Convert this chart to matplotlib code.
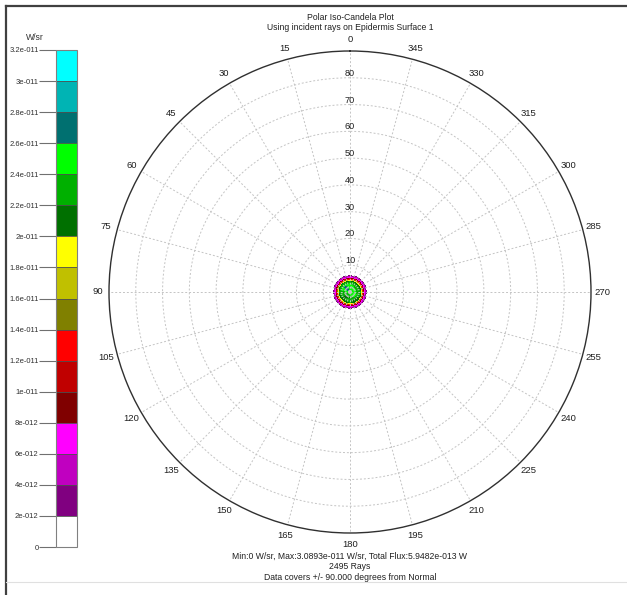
import numpy as np
import matplotlib
matplotlib.use("Agg")
import matplotlib.pyplot as plt
from matplotlib.colors import ListedColormap, BoundaryNorm
from matplotlib.lines import Line2D

plt.rcParams['font.family'] = ['Liberation Sans', 'DejaVu Sans']

# ---- data ----
levels = [0, 2e-12, 4e-12, 6e-12, 8e-12, 1e-11, 1.2e-11, 1.4e-11, 1.6e-11,
          1.8e-11, 2e-11, 2.2e-11, 2.4e-11, 2.6e-11, 2.8e-11, 3e-11, 3.2e-11]
level_labels = ["0", "2e-012", "4e-012", "6e-012", "8e-012", "1e-011", "1.2e-011",
                "1.4e-011", "1.6e-011", "1.8e-011", "2e-011", "2.2e-011", "2.4e-011",
                "2.6e-011", "2.8e-011", "3e-011", "3.2e-011"]
level_colors = ["#ffffff", "#800080", "#c000c0", "#ff00ff", "#800000", "#c00000",
                "#ff0000", "#808000", "#c0c000", "#ffff00", "#007000", "#00b000",
                "#00ff00", "#007070", "#00b4b4", "#00ffff"]

angle_ticks = list(range(0, 360, 15))
angle_labels = [str(a) for a in angle_ticks]
radial_ticks = [10, 20, 30, 40, 50, 60, 70, 80]
radial_labels = ["10", "20", "30", "40", "50", "60", "70", "80"]

# intensity samples (W/sr, x1e-11): rows = azimuth (deg), cols = polar angle (deg)
sample_azimuth = [0, 22.5, 45, 67.5, 90, 112.5, 135, 157.5, 180,
                  202.5, 225, 247.5, 270, 292.5, 315, 337.5, 360]
sample_radius = [0.0, 1.0, 2.0, 3.0, 3.8, 4.2, 4.6, 5.0, 5.5, 6.0, 6.5]
row_000 = [2.50, 2.50, 2.45, 2.40, 2.20, 1.85, 1.30, 0.90, 0.55, 0.25, 0.0]
row_022 = [2.50, 2.55, 2.60, 2.45, 2.20, 1.85, 1.30, 0.90, 0.55, 0.25, 0.0]
row_045 = [2.50, 2.60, 2.80, 2.50, 2.25, 1.85, 1.30, 0.90, 0.50, 0.25, 0.0]
row_067 = [2.50, 2.50, 2.45, 2.45, 2.20, 1.90, 1.35, 0.90, 0.55, 0.25, 0.0]
row_090 = [2.50, 2.45, 2.30, 2.35, 2.20, 1.90, 1.35, 0.95, 0.55, 0.25, 0.0]
row_112 = [2.50, 2.35, 2.15, 2.30, 2.15, 1.85, 1.30, 0.90, 0.55, 0.25, 0.0]
row_135 = [2.50, 2.25, 2.10, 2.15, 2.10, 1.85, 1.30, 0.85, 0.50, 0.25, 0.0]
row_157 = [2.50, 2.35, 2.15, 2.25, 2.15, 1.85, 1.30, 0.90, 0.55, 0.25, 0.0]
row_180 = [2.50, 2.40, 2.10, 2.30, 2.20, 1.90, 1.30, 0.90, 0.55, 0.25, 0.0]
row_202 = [2.50, 2.45, 2.35, 2.20, 2.15, 1.90, 1.30, 0.90, 0.55, 0.25, 0.0]
row_225 = [2.50, 2.50, 2.45, 2.15, 2.20, 1.90, 1.30, 0.90, 0.55, 0.25, 0.0]
row_247 = [2.50, 2.50, 2.45, 2.35, 2.20, 1.90, 1.30, 0.90, 0.55, 0.25, 0.0]
row_270 = [2.50, 2.50, 2.40, 2.40, 2.20, 1.90, 1.30, 0.90, 0.55, 0.25, 0.0]
row_292 = [2.50, 2.45, 2.45, 2.30, 2.15, 1.85, 1.30, 0.90, 0.55, 0.25, 0.0]
row_315 = [2.50, 2.45, 2.40, 2.25, 2.10, 1.85, 1.30, 0.90, 0.50, 0.25, 0.0]
row_337 = [2.50, 2.50, 2.45, 2.35, 2.15, 1.85, 1.30, 0.90, 0.55, 0.25, 0.0]

title_lines = ["Polar Iso-Candela Plot", "Using incident rays on Epidermis Surface 1"]
footer_lines = ["Min:0 W/sr, Max:3.0893e-011 W/sr, Total Flux:5.9482e-013 W",
                "2495 Rays",
                "Data covers +/- 90.000 degrees from Normal"]
unit_label = "W/sr"

# ---- figure ----
W, H = 627, 595
fig = plt.figure(figsize=(W / 100, H / 100), dpi=100)
fig.patch.set_facecolor("white")

cx, cy, R = 350, 292, 241
ax = fig.add_axes([(cx - R) / W, (H - cy - R) / H, 2 * R / W, 2 * R / H], projection="polar")
ax.set_theta_zero_location("N")
ax.set_theta_direction(1)
ax.set_ylim(0, 90)

Z = np.array([row_000, row_022, row_045, row_067, row_090, row_112, row_135, row_157,
              row_180, row_202, row_225, row_247, row_270, row_292, row_315, row_337,
              row_000]) * 1e-11
cmap = ListedColormap(level_colors)
norm = BoundaryNorm(levels, cmap.N)
cs = ax.contourf(np.deg2rad(sample_azimuth), sample_radius, Z.T, levels=levels,
                 cmap=cmap, norm=norm)

ax.set_xticks(np.deg2rad(angle_ticks))
ax.set_xticklabels(angle_labels, fontsize=6.8, color="#202020")
ax.tick_params(axis="x", pad=1.2, length=0)
ax.set_yticks(radial_ticks)
ax.set_yticklabels([])
for r, lab in zip(radial_ticks, radial_labels):
    ax.text(0, r, lab, ha="center", va="bottom", fontsize=6.6, color="#202020")
ax.grid(True, color="#c4c4c4", linestyle=(0, (2, 2)), linewidth=0.7)
ax.spines["polar"].set_color("#303030")
ax.spines["polar"].set_linewidth(1.0)

# colorbar
cax = fig.add_axes([56 / W, (H - 547) / H, 21 / W, 497 / H])
cb = fig.colorbar(cs, cax=cax, ticks=levels, drawedges=True)
cax.yaxis.set_ticks_position("left")
cb.set_ticklabels(level_labels)
cax.tick_params(axis="y", length=12, width=0.8, color="#707070", labelsize=5.5,
                labelcolor="#303030", pad=0.5)
cb.outline.set_edgecolor("#808080")
cb.outline.set_linewidth(0.8)
cb.dividers.set_color("#505050")
cb.dividers.set_linewidth(0.6)
fig.text(35 / W, 1 - 38 / H, unit_label, ha="center", va="center", fontsize=6.2,
         color="#303030")

# titles
fig.text(cx / W, 1 - 18 / H, title_lines[0], ha="center", va="center", fontsize=6.2,
         color="#202020")
fig.text(cx / W, 1 - 27 / H, title_lines[1], ha="center", va="center", fontsize=6.2,
         color="#202020")
for line, y in zip(footer_lines, [556, 566.5, 577]):
    fig.text(cx / W, 1 - y / H, line, ha="center", va="center", fontsize=6.2,
             color="#202020")

# window frame lines
fig.add_artist(Line2D([6 / W, 1], [1 - 5.5 / H, 1 - 5.5 / H], color="#404040", lw=1.6))
fig.add_artist(Line2D([6 / W, 6 / W], [0, 1 - 5.5 / H], color="#404040", lw=1.6))
fig.add_artist(Line2D([6 / W, 1], [1 - 582 / H, 1 - 582 / H], color="#e0e0e0", lw=0.8))

fig.savefig("out.png", dpi=100, facecolor="white")
